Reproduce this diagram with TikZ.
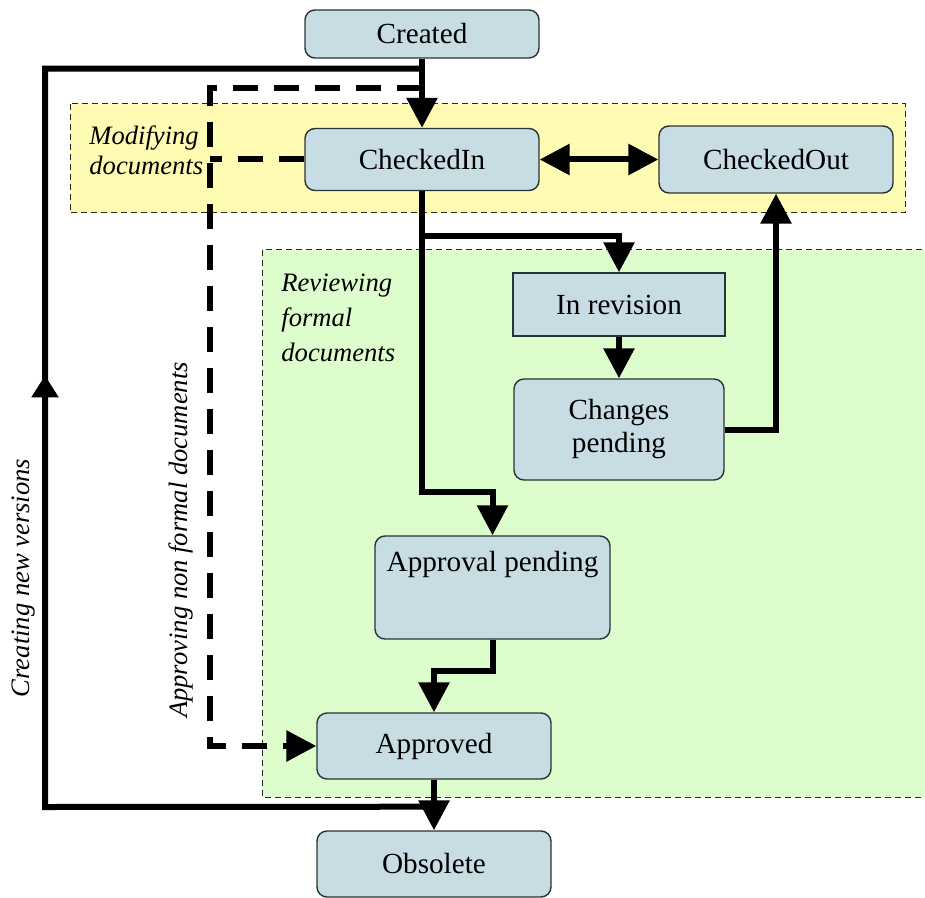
\documentclass[tikz,border=0pt]{standalone}
\usepackage{fontspec}
\setmainfont{Liberation Serif}
\usetikzlibrary{arrows.meta, positioning, calc, decorations.markings}
\definecolor{statefill}{RGB}{200,221,227}
\definecolor{stateline}{RGB}{40,52,52}
\definecolor{modfill}{RGB}{255,251,178}
\definecolor{revfill}{RGB}{221,253,204}

\begin{document}
\begin{tikzpicture}[x=0.5pt, y=-0.5pt,
  state/.style={draw=stateline, line width=0.7pt, fill=statefill, rounded corners=5pt,
    minimum width=117pt, minimum height=33pt, inner sep=2pt, font=\fontsize{14.6pt}{16.5pt}\selectfont},
  area/.style={draw=black!85, line width=0.5pt, dash pattern=on 3pt off 2pt},
  flow/.style={line width=3pt, -{Triangle[length=15pt,width=15pt]}},
  nflow/.style={line width=3pt, dash pattern=on 12.5pt off 8pt},
  tag/.style={inner sep=0pt, font=\fontsize{13.3pt}{15pt}\selectfont\itshape}]
  \useasboundingbox (0,0) rectangle (925,898);

  \draw[area, fill=modfill] (70,104) rectangle (905,213);
  \draw[area, fill=revfill] (262,250) rectangle (940,797);

  \node[state, minimum height=24pt] (created) at (422,34) {Created};
  \node[state, minimum height=31pt] (checkedin) at (422,159.5) {CheckedIn};
  \node[state, minimum height=33.5pt] (checkedout) at (776,159.5) {CheckedOut};
  \node[state, rounded corners=0pt, minimum width=106pt, minimum height=31.5pt] (inrevision) at (619,304.5) {In revision};
  \node[state, minimum width=105pt, minimum height=50.5pt, align=center] (changes) at (619,429.5) {Changes\\pending};
  \node[state, minimum width=117.5pt, minimum height=51.5pt, text height=10pt, text depth=26.5pt] (approval) at (492.5,587.5) {Approval pending};
  \node[state] (approved) at (434,746) {Approved};
  \node[state] (obsolete) at (434,864) {Obsolete};

  \node[tag, anchor=west, align=left] (modlabel) at (89,150) {Modifying\\documents};
  \node[tag, anchor=west, align=left, font=\fontsize{13.3pt}{17.5pt}\selectfont\itshape] (revlabel) at (281,318) {Reviewing\\formal\\documents};
  \node[tag, rotate=90] (newlabel) at (24,578) {Creating new versions};
  \node[tag, rotate=90] (nflabel) at (181,540) {Approving non formal documents};

  \coordinate (top) at ([yshift=-5pt]created.south);
  \coordinate (dtop) at ([yshift=-14.5pt]created.south);
  \coordinate (rev) at ([yshift=-22.5pt]checkedin.south);
  \coordinate (bottom) at ([yshift=-13.5pt]approved.south);
  \coordinate (newcorner) at (45,807);
  \coordinate (nfcorner) at (210,746);

  \draw[flow] (created.south) -- (checkedin.north);
  \draw[line width=3pt, {Triangle[length=15pt,width=15pt]}-{Triangle[length=15pt,width=15pt]}] (checkedin) -- (checkedout);
  \draw[flow] (rev) -| (inrevision.north);
  \draw[flow] (inrevision) -- (changes);
  \draw[flow] (changes.east) -| (checkedout.south);
  \draw[flow] (checkedin.south) |- ([yshift=21.5pt]approval.north) -- (approval.north);
  \draw[flow] (approval.south) |- ([yshift=20.5pt]approved.north) -- (approved.north);
  \draw[flow] (approved) -- (obsolete);
  \draw[line width=3pt, decoration={markings, mark=at position 0.5455 with {\arrow{Triangle[length=11pt,width=13pt]}}},
    postaction={decorate}] (bottom) -- (newcorner) |- (top);
  \draw[nflow, -{Triangle[length=15pt,width=15pt]}] (dtop) -| (nfcorner) -- (approved.west);
  \draw[nflow] (checkedin.west) -- (checkedin.west -| nfcorner);
\end{tikzpicture}
\end{document}
